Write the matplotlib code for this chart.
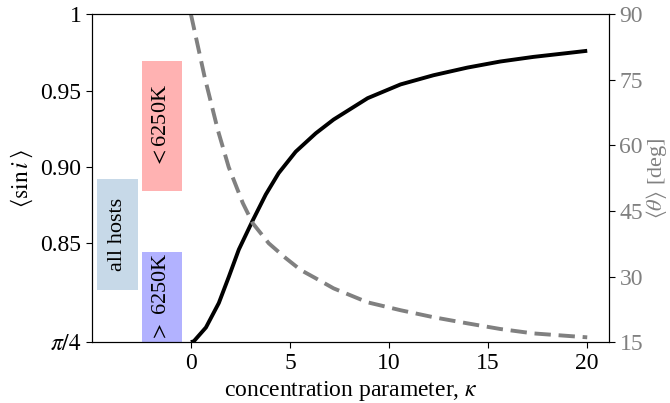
import numpy as np
import matplotlib
matplotlib.use("Agg")
import matplotlib.pyplot as plt
from matplotlib.patches import Rectangle

plt.rcParams['font.family'] = ['Liberation Serif', 'DejaVu Serif']
plt.rcParams['mathtext.fontset'] = 'stix'

# solid curve: <sin i> vs kappa
kappa_sin = [0.0, 0.15, 0.76, 1.41, 1.91, 2.42, 3.12, 3.78, 4.43, 5.29, 6.30,
             7.20, 8.92, 10.58, 12.24, 13.95, 15.62, 17.28, 18.99, 20.0]
mean_sin = [0.7854, 0.786, 0.795, 0.811, 0.828, 0.846, 0.865, 0.882, 0.896, 0.910, 0.922,
            0.931, 0.945, 0.954, 0.960, 0.965, 0.969, 0.972, 0.9745, 0.976]

# dashed curve: <theta> [deg] vs kappa
kappa_th = [0.0, 0.7, 1.36, 1.91, 2.62, 3.12, 3.93, 4.79, 5.54, 6.30, 7.20, 8.92,
            10.58, 12.24, 13.95, 15.62, 17.28, 20.0]
mean_theta = [90.0, 75.5, 63.5, 55.0, 46.8, 42.2, 37.6, 34.2, 31.5, 29.6, 27.3, 24.1,
              22.3, 20.7, 19.3, 18.0, 17.0, 16.1]

left_ticks = [np.pi / 4, 0.85, 0.90, 0.95, 1.0]
left_ticklabels = [r'$\pi/4$', '0.85', '0.90', '0.95', '1']
right_ticks = [15, 30, 45, 60, 75, 90]
x_ticks = [0, 5, 10, 15, 20]

# measured <sin i> ranges shown as shaded bands
labels = ['all hosts', r'$<$6250K', r'$>$ 6250K']
band_x0 = [-4.74, -2.48, -2.48]
band_x1 = [-2.67, -0.45, -0.45]
band_lo = [0.8194, 0.8844, np.pi / 4]
band_hi = [0.8922, 0.9694, 0.8445]
band_colors = ['steelblue', 'red', 'blue']

fig = plt.figure(figsize=(6.7, 4.03), dpi=100)
ax = fig.add_axes([0.137, 0.151, 0.772, 0.814])
ax.plot(kappa_sin, mean_sin, color='black', lw=2.8, solid_capstyle='butt', zorder=3)
ax.set_xlim(-5, 21.1)
ax.set_ylim(np.pi / 4, 1.0)
ax.set_xticks(x_ticks)
ax.set_yticks(left_ticks)
ax.set_yticklabels(left_ticklabels)
ax.tick_params(labelsize=17, length=4)
ax.set_xlabel(r'concentration parameter, $\kappa$', fontsize=17, labelpad=4)
ax.set_ylabel(r'$\langle \sin i\, \rangle$', fontsize=17, labelpad=4)

for t, x0, x1, lo, hi, c in zip(labels, band_x0, band_x1, band_lo, band_hi, band_colors):
    ax.add_patch(Rectangle((x0, lo), x1 - x0, hi - lo, facecolor=c, alpha=0.3,
                           edgecolor='none', zorder=1))
    ax.text((x0 + x1) / 2, (lo + hi) / 2, t, rotation=90, ha='center', va='center',
            fontsize=16, zorder=2)

ax2 = ax.twinx()
ax2.plot(kappa_th, mean_theta, color='gray', lw=2.8, ls=(0, (4.2, 2.0)))
ax2.set_ylim(15, 90)
ax2.set_yticks(right_ticks)
ax2.tick_params(labelsize=17, length=4, labelcolor='gray')
ax2.set_ylabel(r'$\langle \theta \rangle$ [deg]', fontsize=16, color='gray', labelpad=1)

fig.savefig('out.png', dpi=100)
